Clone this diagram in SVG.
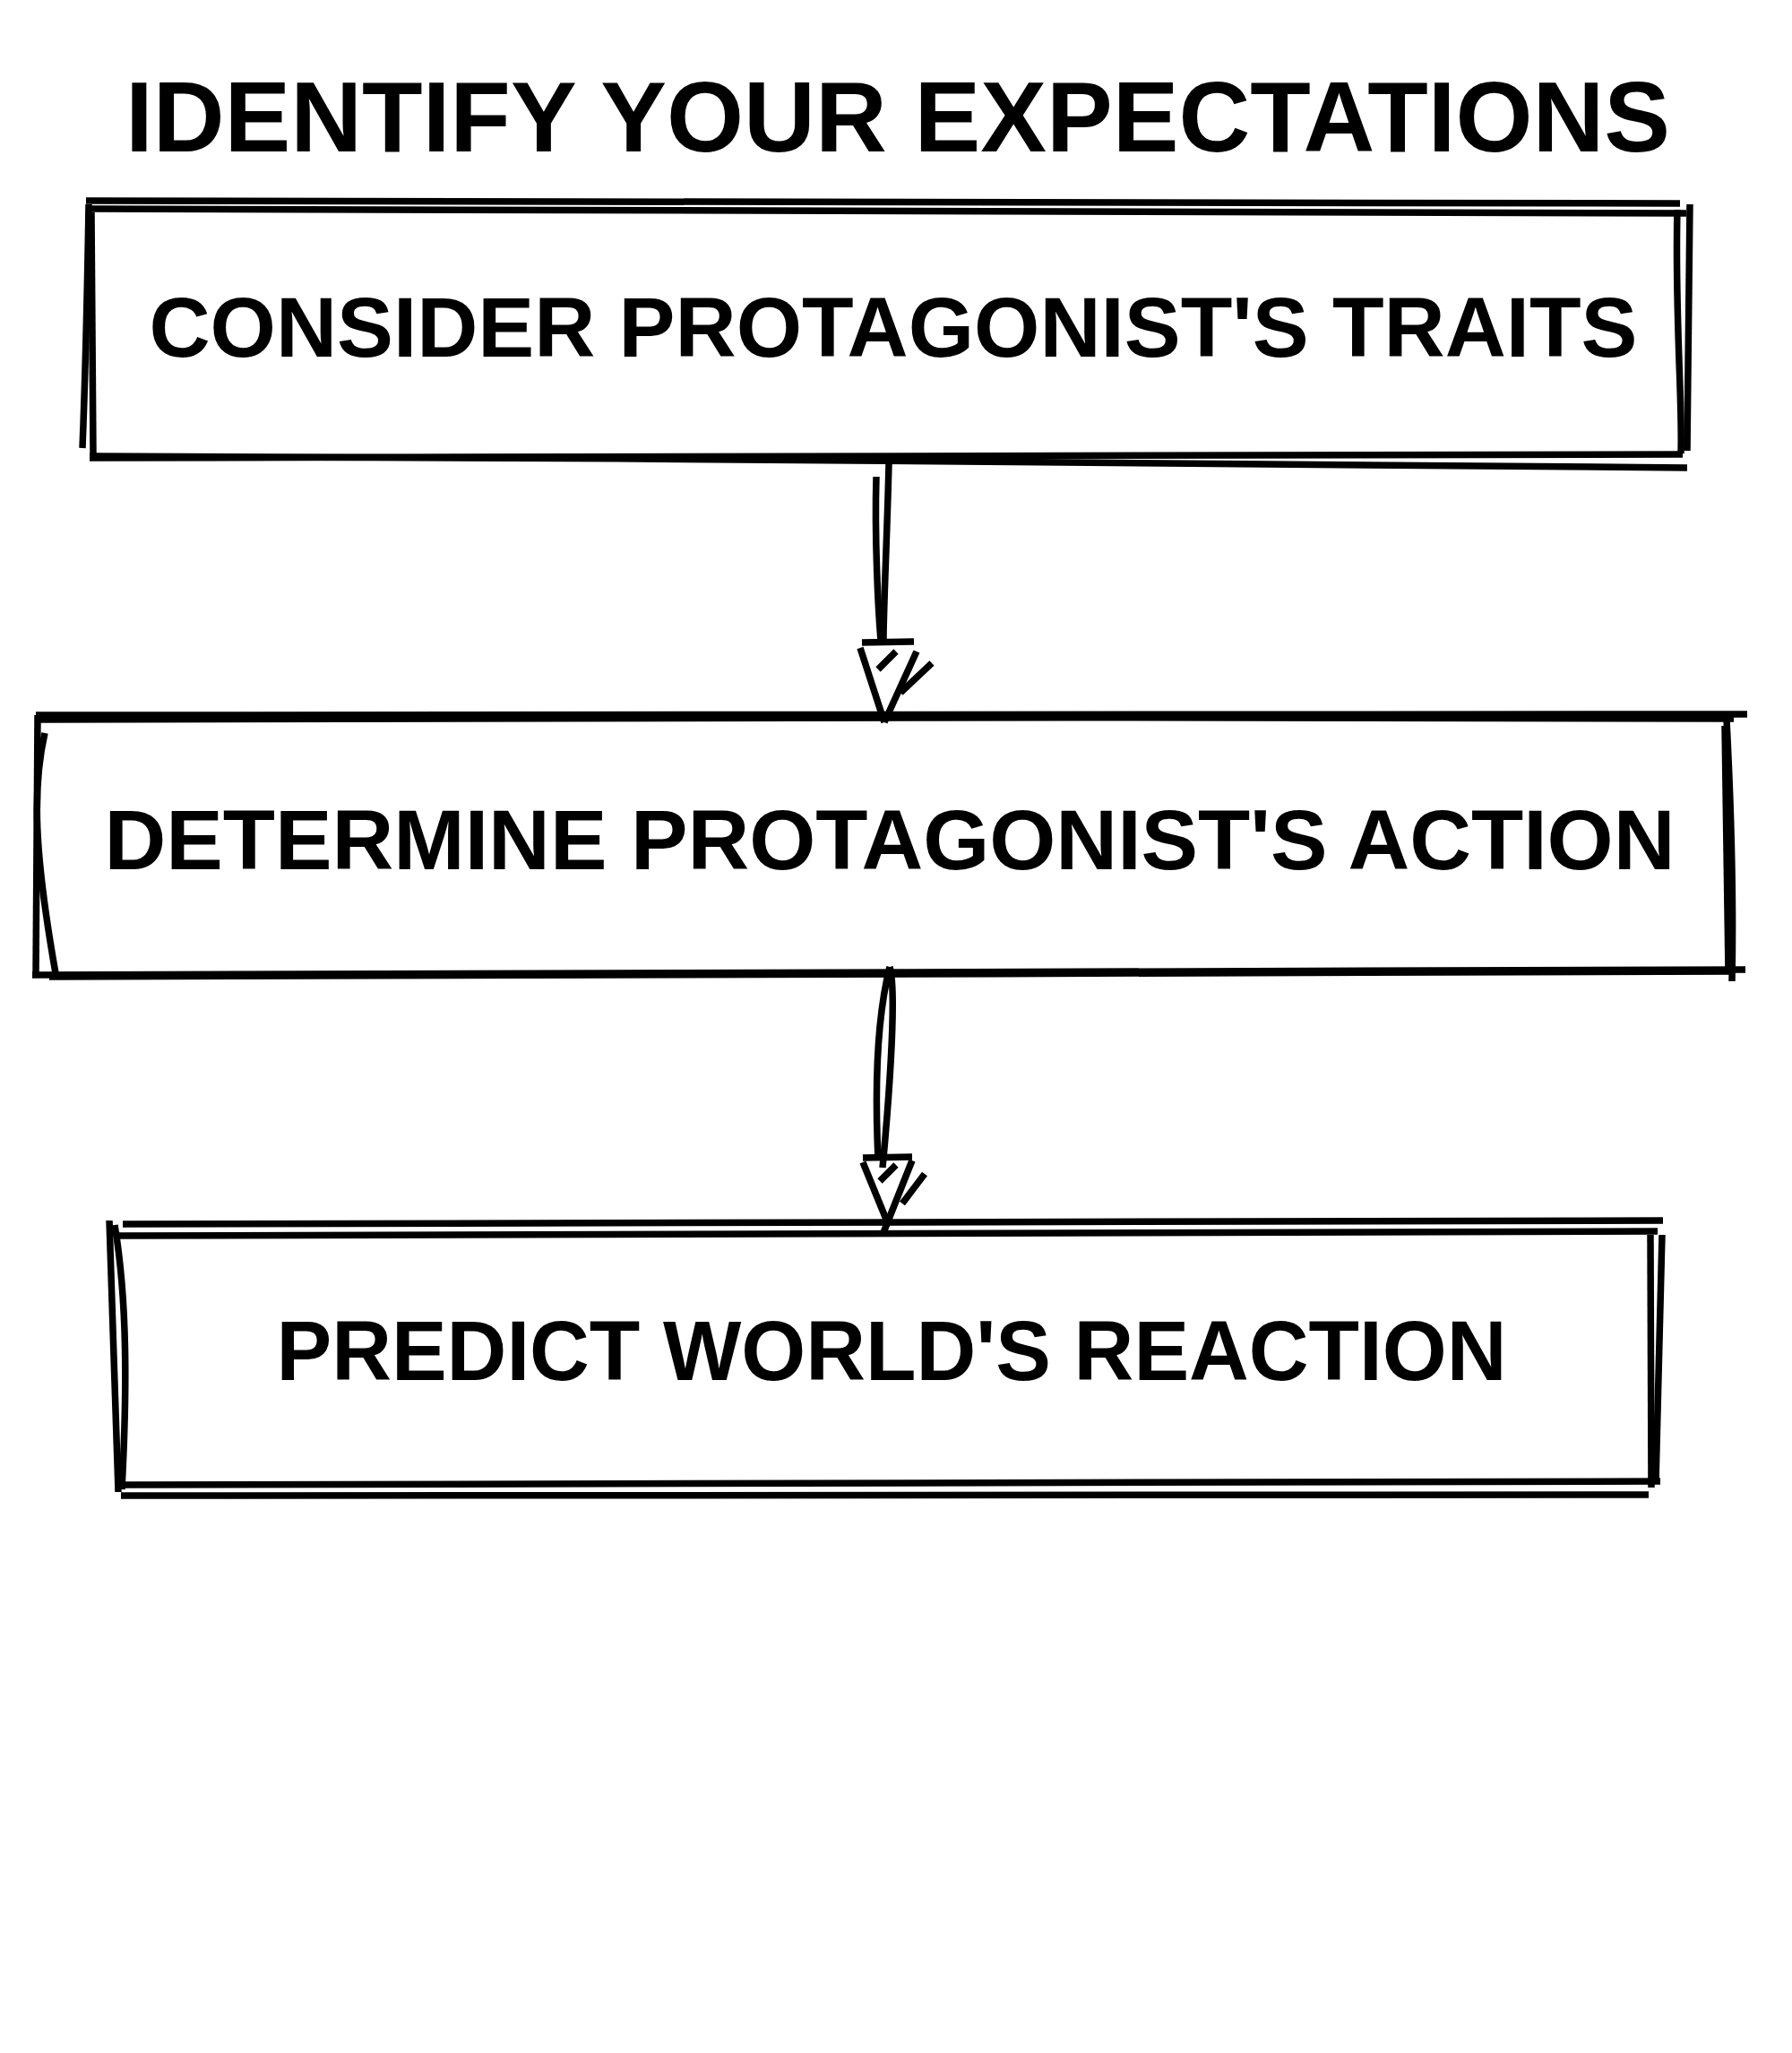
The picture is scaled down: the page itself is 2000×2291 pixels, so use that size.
<svg xmlns="http://www.w3.org/2000/svg" width="2000" height="2291" viewBox="0 0 2000 2291">
<style>
.bg{fill:#ffffff}
.s{fill:none;stroke:#000000;stroke-width:7.5;stroke-linecap:butt;stroke-linejoin:round}
.t{font-family:"Liberation Sans","Noto Sans",Arial,sans-serif;font-weight:bold;fill:#000000;text-anchor:middle}
.title{font-size:112px}
.lbl{font-size:95px}
</style>
<rect class="bg" x="0" y="0" width="2000" height="2291"/>
<g id="title">
<text class="t title" x="1002" y="169" textLength="1724" lengthAdjust="spacingAndGlyphs">IDENTIFY YOUR EXPECTATIONS</text>
</g>
<g id="node-traits">
<path class="s" d="M96 224 L1875 227"/>
<path class="s" d="M102 233 L1882 238"/>
<path class="s" d="M1872 234 C1869 350 1878 450 1876 506"/>
<path class="s" d="M1886 228 L1883 503"/>
<path class="s" d="M100 511 L1878 507"/>
<path class="s" d="M100 509 C700 512 1400 514 1883 522"/>
<path class="s" d="M102 237 L104 506"/>
<path class="s" d="M99 228 C97 350 94 450 92 500"/>
<text class="t lbl" x="997" y="398" textLength="1661" lengthAdjust="spacingAndGlyphs">CONSIDER PROTAGONIST'S TRAITS</text>
</g>
<g id="node-action">
<path class="s" d="M40 798 L1950 797"/>
<path class="s" d="M45 803 C700 800 1300 800 1935 802"/>
<path class="s" d="M42 798 L40 1088"/>
<path class="s" d="M50 818 C36 880 38 950 62 1086"/>
<path class="s" d="M1927 803 C1932 900 1935 1000 1933 1095"/>
<path class="s" d="M1925 810 L1929 1085"/>
<path class="s" d="M36 1088 L1948 1082"/>
<path class="s" d="M55 1090 C700 1088 1300 1086 1935 1084"/>
<text class="t lbl" x="993" y="970" textLength="1753" lengthAdjust="spacingAndGlyphs">DETERMINE PROTAGONIST'S ACTION</text>
</g>
<g id="node-reaction">
<path class="s" d="M137 1366 L1856 1362"/>
<path class="s" d="M133 1379 L1850 1374"/>
<path class="s" d="M122 1362 L132 1665"/>
<path class="s" d="M128 1367 C142 1450 142 1550 136 1662"/>
<path class="s" d="M1842 1378 L1843 1660"/>
<path class="s" d="M1855 1378 C1852 1500 1850 1600 1848 1655"/>
<path class="s" d="M138 1657 L1853 1653"/>
<path class="s" d="M135 1669 L1840 1668"/>
<text class="t lbl" x="995" y="1540" textLength="1373" lengthAdjust="spacingAndGlyphs">PREDICT WORLD'S REACTION</text>
</g>
<g id="connectors">
<g id="edge-traits-action">
<path class="s" d="M992 518 C990 600 986 680 986 715"/>
<path class="s" d="M978 532 C976 600 980 680 983 715"/>
<path class="s" d="M962 717 L1020 716"/>
<path class="s" d="M960 723 L987 806"/>
<path class="s" d="M1023 727 L987 806"/>
<path class="s" d="M980 747 L1000 727"/>
<path class="s" d="M1040 740 L1005 773"/>
</g>
<g id="edge-action-reaction">
<path class="s" d="M993 1079 C975 1150 978 1250 980 1293"/>
<path class="s" d="M993 1079 C1002 1110 990 1250 985 1303"/>
<path class="s" d="M963 1292 L1018 1291"/>
<path class="s" d="M963 1297 L992 1368"/>
<path class="s" d="M1018 1295 L985 1378"/>
<path class="s" d="M982 1318 L1000 1300"/>
<path class="s" d="M1032 1310 L1007 1343"/>
</g>
</g>
</svg>
